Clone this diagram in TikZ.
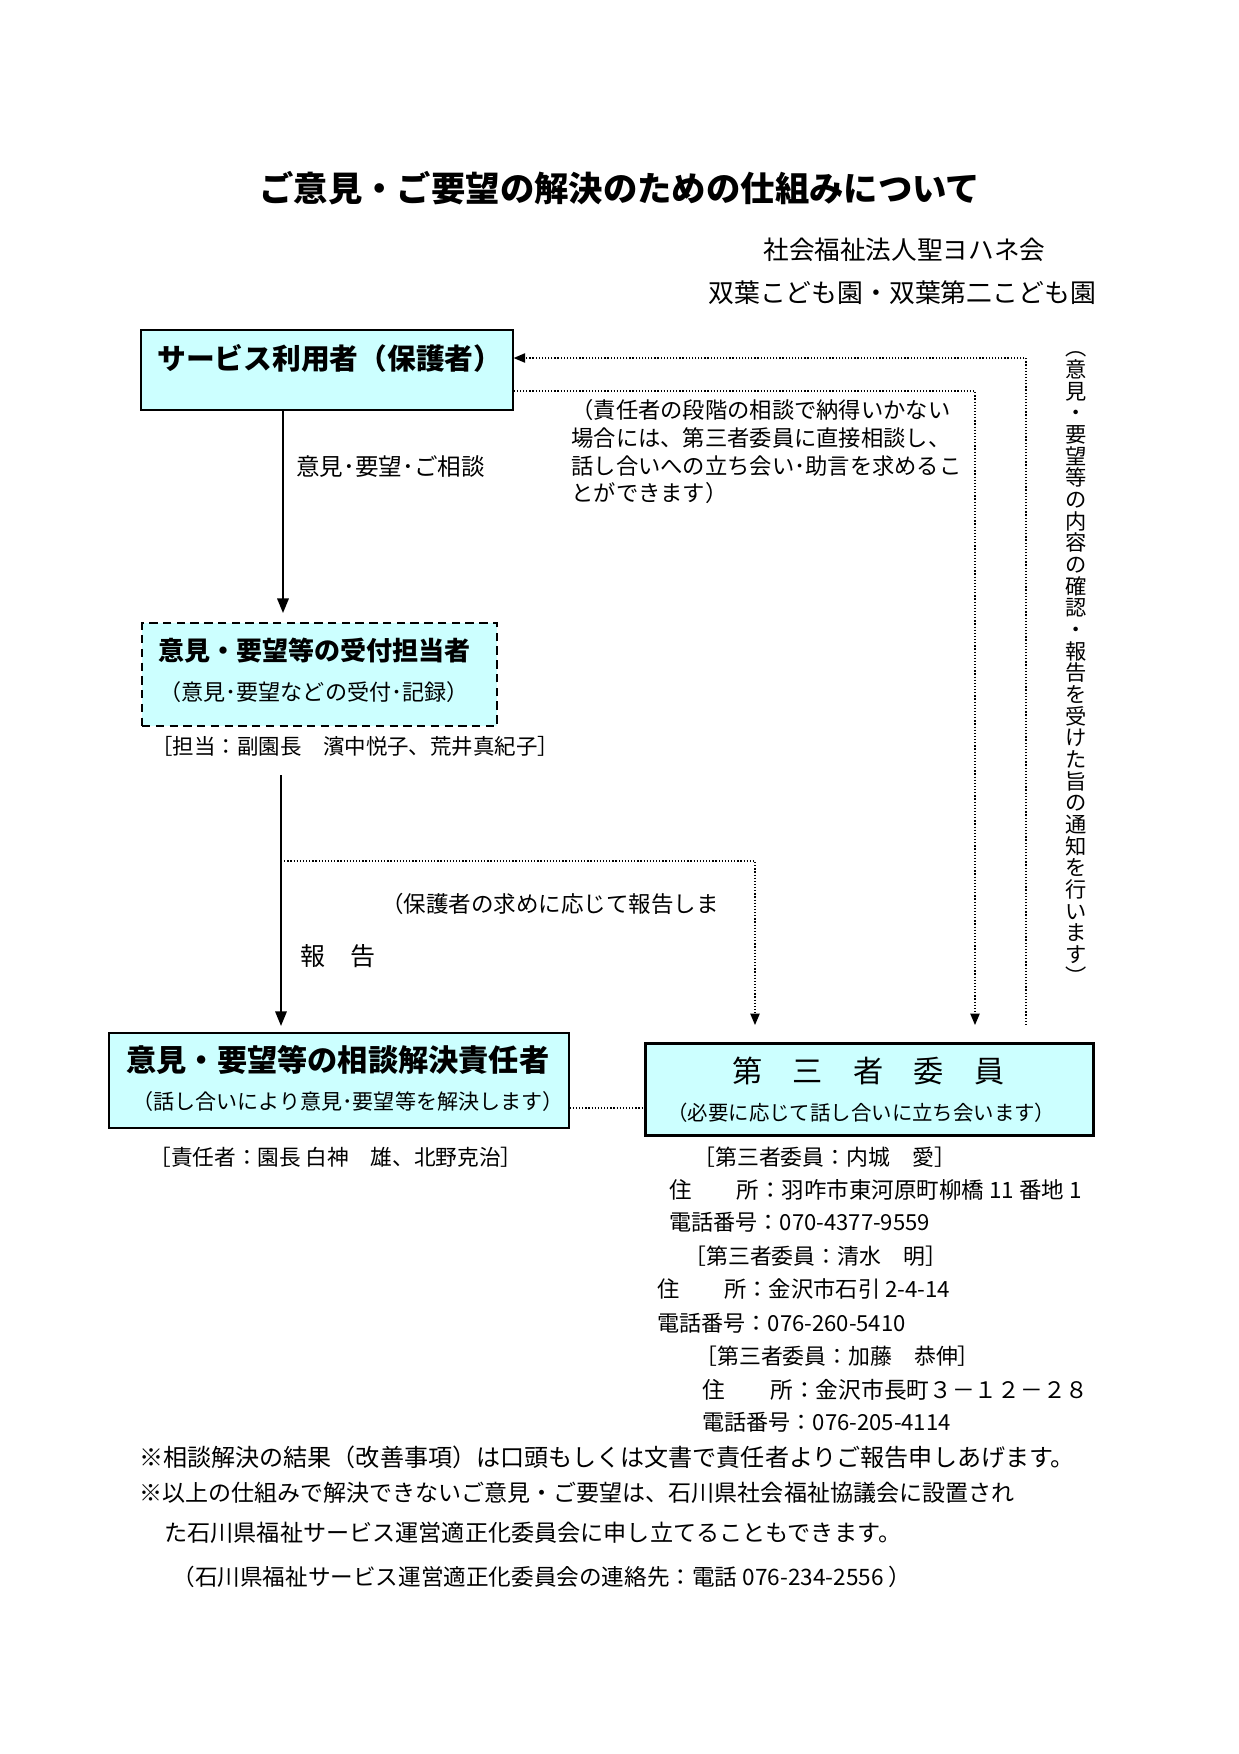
\documentclass[tikz,border=0pt]{standalone}
\usepackage{fontspec}
\setmainfont{Noto Sans CJK JP}
\usetikzlibrary{arrows.meta,calc}
\definecolor{boxfill}{RGB}{204,255,255}
\def\u{0.48pt}
\newcommand\fs[1]{\fontsize{#1pt}{#1pt}\selectfont}
\tikzset{
  txt/.style={anchor=west,inner sep=0pt},
  boxn/.style={draw,fill=boxfill,anchor=north west,inner sep=0pt,line width=0.8pt},
  solidarr/.style={line width=0.9pt,-{Triangle[length=7pt,width=5.5pt]}},
  dotline/.style={line width=0.6pt,dash pattern=on 0.6pt off 0.9pt},
  dotarr/.style={dotline,-{Triangle[length=5.5pt,width=4.5pt]}},
}
\begin{document}
\begin{tikzpicture}[x=0.48pt,y=-0.48pt]
\useasboundingbox[fill=white] (0,0) rectangle (1239,1754);

% title and organisation
\node[txt,font=\fs{16.5}\bfseries] (title) at (259,188) {ご意見・ご要望の解決のための仕組みについて};
\node[txt,font=\fs{12.3}] (org1) at (763,250) {社会福祉法人聖ヨハネ会};
\node[txt,font=\fs{12.4}] (org2) at (708,293) {双葉こども園・双葉第二こども園};

% boxes
\node[boxn,minimum width=372*\u,minimum height=80*\u] (b1) at (140,329) {};
\node[boxn,dash pattern=on 4pt off 2.6pt,line width=1pt,minimum width=355*\u,minimum height=103*\u] (b2) at (141,622) {};
\node[boxn,minimum width=460*\u,minimum height=95*\u] (b3) at (108,1032) {};
\node[boxn,line width=1.3pt,minimum width=448*\u,minimum height=92*\u] (b4) at (644,1042) {};

% box texts
\node[txt,font=\fs{13.8}\bfseries] (b1t) at (157,358) {サービス利用者（保護者）};
\node[txt,font=\fs{12.5}\bfseries] (b2t1) at (158,651) {意見・要望等の受付担当者};
\node[txt,font=\fs{10.6}] (b2t2) at (159,692) {（意見･要望などの受付･記録）};
\node[txt,font=\fs{14.5}\bfseries] (b3t1) at (126,1060) {意見・要望等の相談解決責任者};
\node[txt,font=\fs{10.1}] (b3t2) at (132,1101) {（話し合いにより意見･要望等を解決します）};
\node[txt,font=\fs{14.5}] (b4t1) at (732,1071) {第　三　者　委　員};
\node[txt,font=\fs{9.8}] (b4t2) at (667,1113) {（必要に応じて話し合いに立ち会います）};

% labels
\node[txt,font=\fs{11.3}] (lab1) at (296,467) {意見･要望･ご相談};
\node[txt,font=\fs{10.7}] (n1) at (571,410) {（責任者の段階の相談で納得いかない};
\node[txt,font=\fs{10.7}] (n2) at (571,438) {場合には、第三者委員に直接相談し、};
\node[txt,font=\fs{10.7}] (n3) at (571,466) {話し合いへの立ち会い･助言を求めるこ};
\node[txt,font=\fs{10.7}] (n4) at (571,493) {とができます）};
\node[txt,font=\fs{10.3}] (tan) at (151,746) {［担当：副園長　濱中悦子、荒井真紀子］};
\node[txt,font=\fs{10.8}] (lab2) at (381,904) {（保護者の求めに応じて報告しま};
\node[txt,font=\fs{12}] (lab3) at (300,956) {報　告};
\node[txt,font=\fs{10.4}] (sek) at (149,1157) {［責任者：園長 白神　雄、北野克治］};

% committee members
\node[txt,font=\fs{10.5}] (c1) at (693,1157) {［第三者委員：内城　愛］};
\node[txt,font=\fs{10.8}] (c2) at (669,1190) {住　　所：羽咋市東河原町柳橋 11 番地 1};
\node[txt,font=\fs{10.6}] (c3) at (669,1222) {電話番号：070-4377-9559};
\node[txt,font=\fs{10.5}] (c4) at (684,1256) {［第三者委員：清水　明］};
\node[txt,font=\fs{10.7}] (c5) at (657,1289) {住　　所：金沢市石引 2-4-14};
\node[txt,font=\fs{10.6}] (c6) at (657,1323) {電話番号：076-260-5410};
\node[txt,font=\fs{10.5}] (c7) at (695,1356) {［第三者委員：加藤　恭伸］};
\node[txt,font=\fs{10.9}] (c8) at (702,1390) {住　　所：金沢市長町３－１２－２８};
\node[txt,font=\fs{10.6}] (c9) at (702,1422) {電話番号：076-205-4114};

% footnotes
\node[txt,font=\fs{11.55}] (f1) at (139,1457) {※相談解決の結果（改善事項）は口頭もしくは文書で責任者よりご報告申しあげます。};
\node[txt,font=\fs{11.05}] (f2) at (139,1493) {※以上の仕組みで解決できないご意見・ご要望は、石川県社会福祉協議会に設置され};
\node[txt,font=\fs{11.1}] (f3) at (164,1533) {た石川県福祉サービス運営適正化委員会に申し立てることもできます。};
\node[txt,font=\fs{10.85}] (f4) at (172,1577) {（石川県福祉サービス運営適正化委員会の連絡先：電話 076-234-2556 ）};

% vertical text
\node[inner sep=0pt,align=center,font=\fontsize{10.2pt}{10.4pt}\selectfont] (vt) at (1076,668)
 {︵\\意\\見\\・\\要\\望\\等\\の\\内\\容\\の\\確\\認\\・\\報\\告\\を\\受\\け\\た\\旨\\の\\通\\知\\を\\行\\い\\ま\\す\\︶};

% helper coordinates
\coordinate (xa) at (283,0);
\coordinate (xb) at (281,0);
\coordinate (a2s) at (281,775);
\coordinate (br) at (281,861);
\coordinate (r1) at (1026,1025);
\coordinate (r2) at (975,1025);
\coordinate (r3) at (755,1025);

% connectors
\draw[solidarr,shorten >=4.3pt] (b1.south -| xa) -- (b2.north -| xa);
\draw[solidarr,shorten >=2.9pt] (a2s) -- (b3.north -| xb);
\draw[dotarr] (br) -| (r3);
\draw[dotarr] ($(b1.north east)+(0,62)$) -| (r2);
\draw[dotarr] (r1) |- ($(b1.north east)+(0,29)$);
\draw[dotline] ($(b3.north east)+(0,76)$) -- ($(b4.north west)+(0,66)$);
\end{tikzpicture}
\end{document}
